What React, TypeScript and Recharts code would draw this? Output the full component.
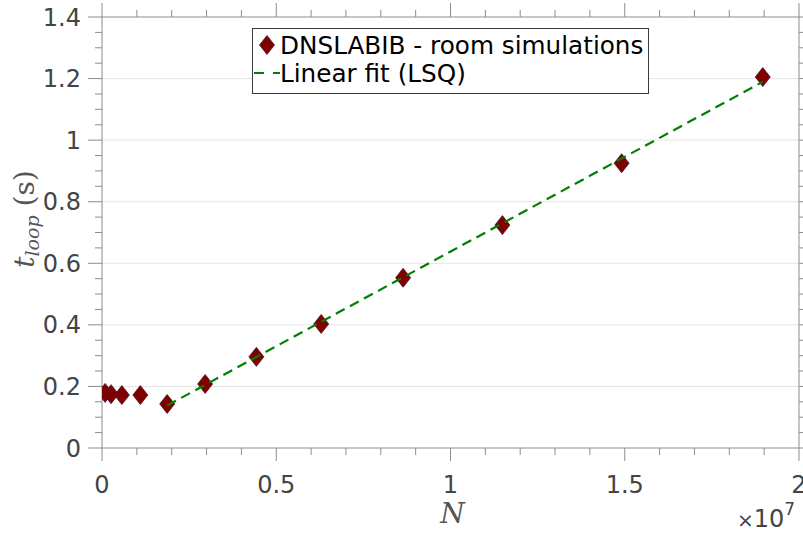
import {
  ComposedChart,
  Label,
  Legend,
  ReferenceLine,
  Scatter,
  XAxis,
  YAxis,
} from "recharts";

// N in units of 1e7, loop time in seconds
const simN = [0.009, 0.026, 0.057, 0.11, 0.187, 0.296, 0.443, 0.629, 0.864, 1.149, 1.491, 1.896];
const simT = [0.179, 0.175, 0.172, 0.172, 0.143, 0.208, 0.296, 0.403, 0.553, 0.724, 0.925, 1.205];

const fitN = [0.187, 1.897];
const fitT = [0.138, 1.19];

const xMajorTicks = [0, 0.5, 1, 1.5, 2];
const yMajorTicks = [0, 0.2, 0.4, 0.6, 0.8, 1, 1.2, 1.4];
const gridLines = [0.2, 0.4, 0.6, 0.8, 1, 1.2];

const xMinorStep = 0.1;
const yMinorStep = 0.05;

const xTicks = Array.from({ length: 21 }, (_, i) => +(i * xMinorStep).toFixed(2));
const yTicks = Array.from({ length: 29 }, (_, i) => +(i * yMinorStep).toFixed(2));

const simData = simN.map((n, i) => ({ n, t: simT[i] }));
const fitData = fitN.map((n, i) => ({ n, t: fitT[i] }));

const AXIS = "#8c8c8c";
const TEXT = "#444444";
const LABEL = "#555555";
const MARKER = "#800000";
const FIT = "#008000";
const SANS = "'DejaVu Sans', sans-serif";
const SERIF = "'DejaVu Serif', serif";

const isMajor = (v: number, majors: number[]) =>
  majors.some((m) => Math.abs(m - v) < 1e-6);

const fmt = (v: number) => String(+v.toFixed(2));

const BottomTick = ({ x, y, payload }: any) => {
  const major = isMajor(payload.value, xMajorTicks);
  return (
    <g>
      <line x1={x} x2={x} y1={y} y2={y + (major ? 13 : 7)} stroke={AXIS} />
      {major && (
        <text x={x} y={y + 45} textAnchor="middle" fontSize={24} fontFamily={SANS} fill={TEXT}>
          {fmt(payload.value)}
        </text>
      )}
    </g>
  );
};

const TopTick = ({ x, y, payload }: any) => {
  const major = isMajor(payload.value, xMajorTicks);
  return <line x1={x} x2={x} y1={y} y2={y - (major ? 14 : 7)} stroke={AXIS} />;
};

const LeftTick = ({ x, y, payload }: any) => {
  const major = isMajor(payload.value, yMajorTicks);
  return (
    <g>
      <line x1={x - (major ? 14 : 7)} x2={x} y1={y} y2={y} stroke={AXIS} />
      {major && (
        <text x={x - 21} y={y + 8.5} textAnchor="end" fontSize={24} fontFamily={SANS} fill={TEXT}>
          {fmt(payload.value)}
        </text>
      )}
    </g>
  );
};

const RightTick = ({ x, y, payload }: any) => {
  const major = isMajor(payload.value, yMajorTicks);
  return <line x1={x} x2={x + (major ? 14 : 7)} y1={y} y2={y} stroke={AXIS} />;
};

const Diamond = ({ cx, cy }: any) => (
  <polygon
    points={`${cx},${cy - 9.5} ${cx + 7.5},${cy} ${cx},${cy + 9.5} ${cx - 7.5},${cy}`}
    fill={MARKER}
    stroke="#4a1530"
    strokeWidth={0.8}
  />
);

const NoMarker = () => <g />;

const XLabel = ({ viewBox }: any) => {
  const { x, y, width } = viewBox;
  return (
    <g>
      <text x={x + width / 2 + 2} y={y + 75} textAnchor="middle" fontSize={28} fontFamily={SERIF} fontStyle="italic" fill={LABEL}>
        N
      </text>
      <text x={x + width - 62} y={y + 79} fontFamily={SANS} fill={TEXT}>
        <tspan fontSize={20}>×</tspan>
        <tspan fontSize={24}>10</tspan>
        <tspan fontSize={17} dy={-12}>7</tspan>
      </text>
    </g>
  );
};

const YLabel = () => {
  const cx = 34;
  const cy = 219;
  return (
    <text
      x={cx}
      y={cy}
      transform={`rotate(-90 ${cx} ${cy})`}
      textAnchor="middle"
      fontSize={28}
      fontFamily={SERIF}
      fill={LABEL}
    >
      <tspan fontStyle="italic">t</tspan>
      <tspan fontStyle="italic" fontSize={19} dy={5}>loop</tspan>
      <tspan dy={-5}> (s)</tspan>
    </text>
  );
};

const LegendBox = () => (
  <div
    style={{
      border: "1px solid #3a3a3a",
      background: "#fff",
      width: 395,
      height: 62,
      boxSizing: "content-box",
      fontFamily: SANS,
      fontSize: 24.7,
      color: "#000",
      lineHeight: "27px",
      paddingTop: 2,
      whiteSpace: "nowrap",
    }}
  >
    <div style={{ display: "flex", alignItems: "center", height: 28 }}>
      <svg width={27} height={28}>
        <polygon points="14,4.5 21.5,14 14,23.5 6.5,14" fill={MARKER} stroke="#4a1530" strokeWidth={0.8} />
      </svg>
      <span>DNSLABIB - room simulations</span>
    </div>
    <div style={{ display: "flex", alignItems: "center", height: 28 }}>
      <svg width={27} height={28}>
        <line x1={1} x2={27} y1={14} y2={14} stroke={FIT} strokeWidth={2.2} strokeDasharray="10 9" />
      </svg>
      <span>Linear fit (LSQ)</span>
    </div>
  </div>
);

export default function App() {
  return (
    <div style={{ position: "absolute", left: 0, top: 0, width: 803, height: 533, background: "#fff" }}>
      <ComposedChart width={803} height={533} margin={{ top: 0, right: 0, bottom: 0, left: 0 }}>
        <XAxis
          xAxisId="x"
          dataKey="n"
          type="number"
          domain={[0, 2]}
          ticks={xTicks}
          interval={0}
          height={85}
          tickSize={0}
          tickMargin={0}
          tick={<BottomTick />}
          axisLine={{ stroke: AXIS }}
          allowDataOverflow
        >
          <Label content={<XLabel />} />
        </XAxis>
        <XAxis
          xAxisId="top"
          orientation="top"
          dataKey="n"
          type="number"
          domain={[0, 2]}
          ticks={xTicks}
          interval={0}
          height={17}
          tickSize={0}
          tickMargin={0}
          tick={<TopTick />}
          axisLine={{ stroke: AXIS }}
          allowDataOverflow
        />
        <YAxis
          yAxisId="y"
          type="number"
          domain={[0, 1.4]}
          ticks={yTicks}
          interval={0}
          width={102}
          tickSize={0}
          tickMargin={0}
          tick={<LeftTick />}
          axisLine={{ stroke: AXIS }}
          allowDataOverflow
        >
          <Label content={<YLabel />} />
        </YAxis>
        <YAxis
          yAxisId="right"
          orientation="right"
          type="number"
          domain={[0, 1.4]}
          ticks={yTicks}
          interval={0}
          width={4}
          tickSize={0}
          tickMargin={0}
          tick={<RightTick />}
          axisLine={{ stroke: AXIS }}
          allowDataOverflow
        />
        {gridLines.map((v) => (
          <ReferenceLine key={v} xAxisId="x" yAxisId="y" y={v} stroke="#e6e6e6" />
        ))}
        <Scatter
          xAxisId="x"
          yAxisId="y"
          name="DNSLABIB - room simulations"
          data={simData}
          dataKey="t"
          shape={<Diamond />}
          isAnimationActive={false}
        />
        <Scatter
          xAxisId="x"
          yAxisId="y"
          name="Linear fit (LSQ)"
          data={fitData}
          dataKey="t"
          shape={<NoMarker />}
          line={{ stroke: FIT, strokeWidth: 2.2, strokeDasharray: "10 6" }}
          isAnimationActive={false}
        />
        <Legend
          layout="vertical"
          align="center"
          verticalAlign="middle"
          content={<LegendBox />}
          wrapperStyle={{ left: 252, top: 28, width: 397 }}
        />
      </ComposedChart>
    </div>
  );
}
